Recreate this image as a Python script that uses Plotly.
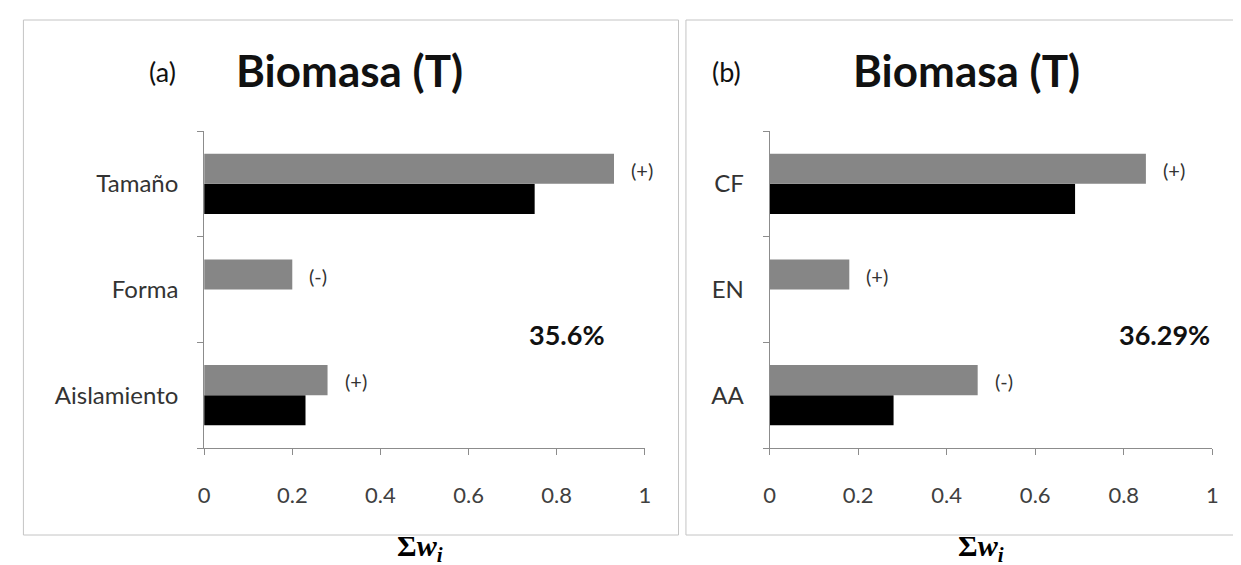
import plotly.graph_objects as go

W, H = 1241, 565

# ---- data ----
cats_a = ["Aislamiento", "Forma", "Tamaño"]
gray_a = [0.28, 0.20, 0.93]
black_a = [0.23, 0.0, 0.75]
signs_a = ["(+)", "(-)", "(+)"]
pct_a = "35.6%"

cats_b = ["AA", "EN", "CF"]
gray_b = [0.47, 0.18, 0.85]
black_b = [0.28, 0.0, 0.69]
signs_b = ["(-)", "(+)", "(+)"]
pct_b = "36.29%"

xticks = [0, 0.2, 0.4, 0.6, 0.8, 1]
xticktext = ["0", "0.2", "0.4", "0.6", "0.8", "1"]

GRAY = "#868686"
BLACK = "#000000"
SANS = "Lato"


def px(x):
    return x / W


def py(y):
    return 1 - y / H


fig = go.Figure()

panels = [
    (cats_a, gray_a, black_a, signs_a, pct_a, "x", "y"),
    (cats_b, gray_b, black_b, signs_b, pct_b, "x2", "y2"),
]

for cats, gray, black, signs, pct, xa, ya in panels:
    fig.add_trace(go.Bar(y=cats, x=black, orientation="h", marker_color=BLACK,
                         marker_line_width=0, xaxis=xa, yaxis=ya, showlegend=False))
    fig.add_trace(go.Bar(y=cats, x=gray, orientation="h", marker_color=GRAY,
                         marker_line_width=0, xaxis=xa, yaxis=ya, showlegend=False))
    for c, g, s in zip(cats, gray, signs):
        fig.add_annotation(x=g, y=c, xref=xa, yref=ya, text=s, showarrow=False,
                           xanchor="left", yanchor="middle", xshift=15, yshift=14,
                           font=dict(family=SANS, size=20, color="#333333"))

axis_common = dict(
    showline=True, linecolor="#8c8c8c", linewidth=1, showgrid=False, zeroline=False,
    ticks="outside", tickcolor="#8c8c8c", ticklen=6,
)

xcommon = dict(axis_common, range=[0, 1], tickvals=xticks, ticktext=xticktext,
               ticklabelstandoff=22, tickfont=dict(family=SANS, size=22, color="#404040"))
ycommon = dict(axis_common, type="category", range=[-0.5, 2.5], tickson="boundaries",
               ticklabelstandoff=20, tickfont=dict(family=SANS, size=24, color="#333333"))

fig.update_layout(
    width=W, height=H,
    margin=dict(l=0, r=0, t=0, b=0),
    paper_bgcolor="white", plot_bgcolor="white",
    barmode="group", bargap=0.43, bargroupgap=0,
    xaxis=dict(xcommon, domain=[px(192), px(637)], anchor="y"),
    yaxis=dict(ycommon, categoryorder="array", categoryarray=cats_a,
               domain=[py(440), py(123)], anchor="x"),
    xaxis2=dict(xcommon, domain=[px(763), px(1210)], anchor="y2"),
    yaxis2=dict(ycommon, categoryorder="array", categoryarray=cats_b,
                domain=[py(440), py(123)], anchor="x2"),
)

# panel frames
for x0, x1 in [(9.5, 671), (678.5, 1240)]:
    fig.add_shape(type="rect", xref="paper", yref="paper",
                  x0=px(x0), x1=px(x1), y0=py(527), y1=py(12),
                  line=dict(color="#c4c4c4", width=1), fillcolor="rgba(0,0,0,0)")

# titles & labels
texts = [
    ("(a)", 150, 63, 27, False),
    ("Biomasa (T)", 339, 62, 44, True),
    ("(b)", 719, 63, 27, False),
    ("Biomasa (T)", 962, 62, 44, True),
    (pct_a, 558, 326, 27, True),
    (pct_b, 1162, 326, 27, True),
]
for t, x, y, s, b in texts:
    fig.add_annotation(x=px(x), y=py(y), xref="paper", yref="paper",
                       text=f"<b>{t}</b>" if b else t, showarrow=False,
                       xanchor="center", yanchor="middle",
                       font=dict(family=SANS, size=s, color="#111111"))

for x in [410, 976]:
    fig.add_annotation(x=px(x), y=py(540), xref="paper", yref="paper",
                       text="<b>Σ<i>w</i><sub><i>i</i></sub></b>", showarrow=False,
                       xanchor="center", yanchor="middle",
                       font=dict(family="Liberation Serif", size=30, color="#000000"))

fig.write_html("out.html")
